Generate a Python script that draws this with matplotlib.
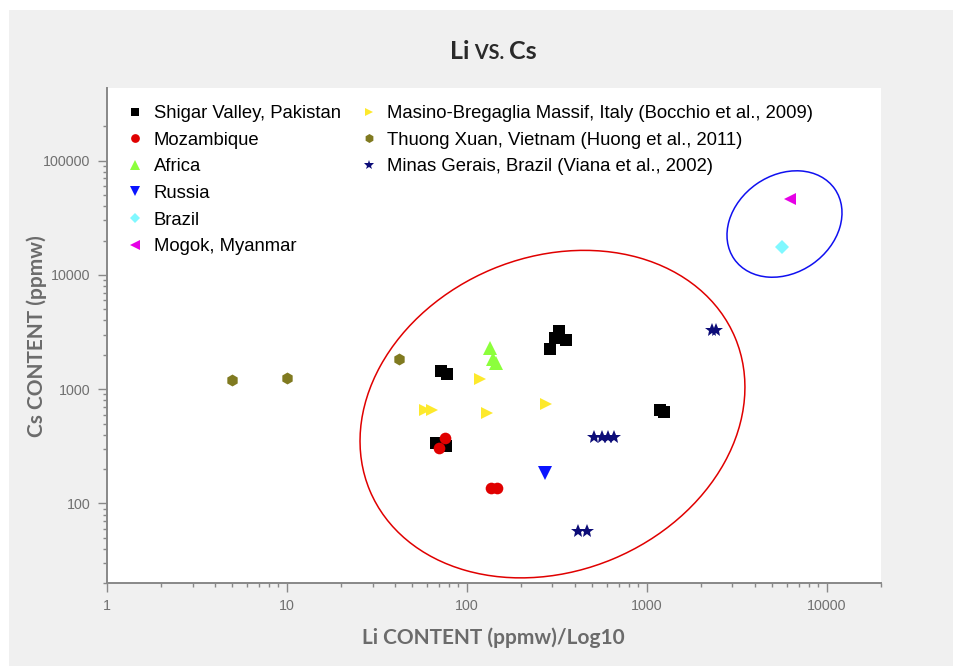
import matplotlib
matplotlib.use("Agg")
import matplotlib.pyplot as plt
from matplotlib.patches import Ellipse, Rectangle
from matplotlib.lines import Line2D
from matplotlib.transforms import ScaledTranslation
from matplotlib.ticker import FixedLocator, NullFormatter

# Li (ppmw) and Cs (ppmw), one pair of lists per locality
shigar_li = [72, 78, 68, 77, 291, 308, 328, 357, 1191, 1242]
shigar_cs = [1450, 1370, 340, 317, 2254, 2818, 3214, 2685, 664, 630]
mozambique_li = [76, 70, 136, 147]
mozambique_cs = [371, 303, 136, 136]
africa_li = [135, 141, 146]
africa_cs = [2300, 1845, 1700]
russia_li = [271]
russia_cs = [186]
brazil_li = [5650]
brazil_cs = [17600]
mogok_li = [6240]
mogok_cs = [46400]
masino_li = [59, 64, 118, 129, 277]
masino_cs = [664, 664, 1233, 617, 735]
thuong_li = [5, 10, 42]
thuong_cs = [1200, 1250, 1820]
minas_li = [2307, 2428, 511, 565, 610, 655, 418, 466]
minas_cs = [3327, 3327, 380, 380, 380, 380, 57, 57]

x_ticks = [1, 10, 100, 1000, 10000]
y_ticks = [100, 1000, 10000, 100000]

series = [
    ("Shigar Valley, Pakistan", shigar_li, shigar_cs, "s", "#000000", 8),
    ("Mozambique", mozambique_li, mozambique_cs, "o", "#e00000", 8.4),
    ("Africa", africa_li, africa_cs, "^", "#8cff3c", 10),
    ("Russia", russia_li, russia_cs, "v", "#0a14ff", 9.5),
    ("Brazil", brazil_li, brazil_cs, "D", "#80f8ff", 7.2),
    ("Mogok, Myanmar", mogok_li, mogok_cs, "<", "#e600e6", 9),
    ("Masino-Bregaglia Massif, Italy (Bocchio et al., 2009)", masino_li, masino_cs, ">", "#fde92c", 8.5),
    ("Thuong Xuan, Vietnam (Huong et al., 2011)", thuong_li, thuong_cs, "h", "#807a20", 8.6),
    ("Minas Gerais, Brazil (Viana et al., 2002)", minas_li, minas_cs, "*", "#0c0c78", 10),
]

W, H = 954, 666
fig = plt.figure(figsize=(W / 100, H / 100), dpi=100)
fig.patch.set_facecolor("white")
fig.add_artist(Rectangle((9 / W, 0), 1, (H - 9.5) / H, transform=fig.transFigure,
                         facecolor="#f0f0f0", edgecolor="none", zorder=-10))

ax = fig.add_axes([106.7 / W, (H - 583.3) / H, 774 / W, 495 / H])
ax.set_facecolor("white")
ax.set_xscale("log")
ax.set_yscale("log")
ax.set_xlim(1, 20000)
ax.set_ylim(20, 430000)

handles = []
for label, li, cs, mk, col, ms in series:
    h, = ax.plot(li, cs, linestyle="none", marker=mk, color=col, markersize=ms,
                 markeredgewidth=0, label=label)
    handles.append(h)

# group outlines (sizes in inches, centred on data points)
for (cx, cy), w, h, ang, col in [((300, 605), 3.96, 3.14, 22.7, "#e00000"),
                                 ((5840, 27900), 1.226, 0.976, 34.9, "#1010f0")]:
    tr = fig.dpi_scale_trans + ScaledTranslation(cx, cy, ax.transData)
    ax.add_patch(Ellipse((0, 0), w, h, angle=ang, transform=tr, fill=False,
                         edgecolor=col, linewidth=1.1, zorder=1))

# axes look
axis_col = "#888888"
for s in ["top", "right"]:
    ax.spines[s].set_visible(False)
for s in ["left", "bottom"]:
    ax.spines[s].set_color(axis_col)
    ax.spines[s].set_linewidth(1.4)
ax.xaxis.set_major_locator(FixedLocator(x_ticks))
ax.yaxis.set_major_locator(FixedLocator(y_ticks))
ax.set_xticklabels([str(v) for v in x_ticks])
ax.set_yticklabels([str(v) for v in y_ticks])
ax.xaxis.set_minor_locator(FixedLocator([m * 10 ** e for e in range(0, 4) for m in range(2, 10)] + [20000]))
ax.yaxis.set_minor_locator(FixedLocator([m * 10 ** e for e in range(1, 5) for m in range(2, 10)] + [200000]))
ax.xaxis.set_minor_formatter(NullFormatter())
ax.yaxis.set_minor_formatter(NullFormatter())
ax.tick_params(which="major", direction="out", length=6.5, width=1, color=axis_col,
               labelsize=10.3, labelcolor="#707070", pad=5)
ax.tick_params(which="minor", direction="out", length=3, width=1, color=axis_col)
for t in ax.get_xticklabels() + ax.get_yticklabels():
    t.set_family("Liberation Sans")

ax.set_xlabel("Li CONTENT (ppmw)/Log10", fontsize=15, fontweight="bold", color="#6b6b6b",
              family="Lato", labelpad=10)
ax.set_ylabel("Cs CONTENT (ppmw)", fontsize=15, fontweight="bold", color="#6b6b6b",
              family="Lato")
ax.yaxis.set_label_coords(-0.077, 0.5)

# legend: 6 rows in the first column, 3 in the second
blank = Line2D([], [], linestyle="none")
leg_handles = handles[:6] + handles[6:] + [blank] * 3
leg_labels = [h.get_label() for h in handles] + [""] * 3
ax.legend(leg_handles, leg_labels, ncol=2, loc="upper left", bbox_to_anchor=(0.030, 0.966),
          frameon=False, prop={"family": "Liberation Sans", "size": 13.3},
          markerscale=0.75, handlelength=0.6, handletextpad=0.7, columnspacing=1.2,
          labelspacing=0.52, borderpad=0, borderaxespad=0)

# title "Li VS. Cs" with the smaller VS.
parts = [("Li", 18), (" VS. ", 14.3), ("Cs", 18)]
texts = [fig.text(0, 1 - 59.3 / H, s, fontsize=fs, fontweight="bold", family="Lato",
                  color="#2a2a2a", va="baseline", ha="left") for s, fs in parts]
r = fig.canvas.get_renderer()
widths = [t.get_window_extent(r).width for t in texts]
x0 = 493.4 - sum(widths) / 2
for t, w in zip(texts, widths):
    t.set_x(x0 / W)
    x0 += w

fig.savefig("out.png", dpi=100)
